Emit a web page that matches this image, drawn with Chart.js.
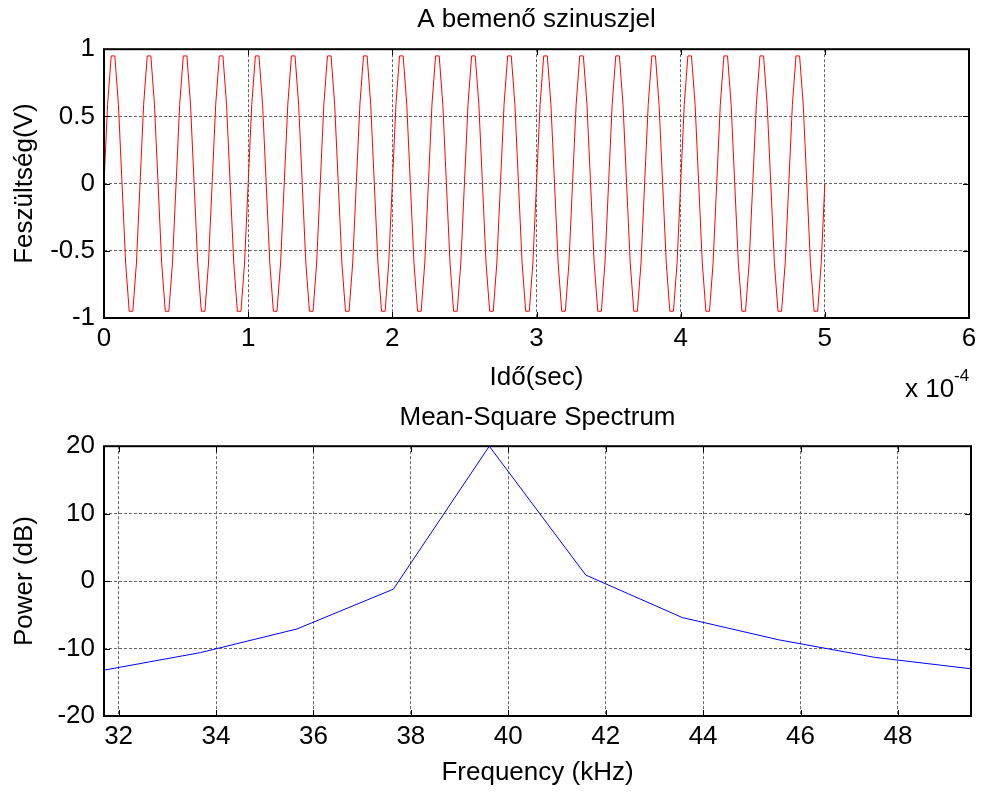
<!DOCTYPE html>
<html lang="hu">
<head>
<meta charset="utf-8">
<title>A bemenő szinuszjel</title>
<script src="https://cdn.jsdelivr.net/npm/chart.js@4.4.1/dist/chart.umd.min.js"></script>
<style>
    body { margin: 0; background: #fff; }
    #grafico1 { position: absolute; left: 0; top: 0; }
    #grafico2 { position: absolute; left: 0; top: 400px; }
</style>
</head>
<body>
<canvas id="grafico1" width="982" height="400"></canvas>
<canvas id="grafico2" width="982" height="392"></canvas>
<script>
// idő (x 10^-4 sec)
const tempo = [
    0, 0.025, 0.05, 0.075, 0.1, 0.125, 0.15, 0.175, 0.2, 0.225,
    0.25, 0.275, 0.3, 0.325, 0.35, 0.375, 0.4, 0.425, 0.45, 0.475,
    0.5, 0.525, 0.55, 0.575, 0.6, 0.625, 0.65, 0.675, 0.7, 0.725,
    0.75, 0.775, 0.8, 0.825, 0.85, 0.875, 0.9, 0.925, 0.95, 0.975,
    1, 1.025, 1.05, 1.075, 1.1, 1.125, 1.15, 1.175, 1.2, 1.225,
    1.25, 1.275, 1.3, 1.325, 1.35, 1.375, 1.4, 1.425, 1.45, 1.475,
    1.5, 1.525, 1.55, 1.575, 1.6, 1.625, 1.65, 1.675, 1.7, 1.725,
    1.75, 1.775, 1.8, 1.825, 1.85, 1.875, 1.9, 1.925, 1.95, 1.975,
    2, 2.025, 2.05, 2.075, 2.1, 2.125, 2.15, 2.175, 2.2, 2.225,
    2.25, 2.275, 2.3, 2.325, 2.35, 2.375, 2.4, 2.425, 2.45, 2.475,
    2.5, 2.525, 2.55, 2.575, 2.6, 2.625, 2.65, 2.675, 2.7, 2.725,
    2.75, 2.775, 2.8, 2.825, 2.85, 2.875, 2.9, 2.925, 2.95, 2.975,
    3, 3.025, 3.05, 3.075, 3.1, 3.125, 3.15, 3.175, 3.2, 3.225,
    3.25, 3.275, 3.3, 3.325, 3.35, 3.375, 3.4, 3.425, 3.45, 3.475,
    3.5, 3.525, 3.55, 3.575, 3.6, 3.625, 3.65, 3.675, 3.7, 3.725,
    3.75, 3.775, 3.8, 3.825, 3.85, 3.875, 3.9, 3.925, 3.95, 3.975,
    4, 4.025, 4.05, 4.075, 4.1, 4.125, 4.15, 4.175, 4.2, 4.225,
    4.25, 4.275, 4.3, 4.325, 4.35, 4.375, 4.4, 4.425, 4.45, 4.475,
    4.5, 4.525, 4.55, 4.575, 4.6, 4.625, 4.65, 4.675, 4.7, 4.725,
    4.75, 4.775, 4.8, 4.825, 4.85, 4.875, 4.9, 4.925, 4.95, 4.975,
    5
];

// feszültség (V)
const tensao = [
    0, 0.59, 0.95, 0.95, 0.59, 0, -0.59, -0.95, -0.95, -0.59,
    0, 0.59, 0.95, 0.95, 0.59, 0, -0.59, -0.95, -0.95, -0.59,
    0, 0.59, 0.95, 0.95, 0.59, 0, -0.59, -0.95, -0.95, -0.59,
    0, 0.59, 0.95, 0.95, 0.59, 0, -0.59, -0.95, -0.95, -0.59,
    0, 0.59, 0.95, 0.95, 0.59, 0, -0.59, -0.95, -0.95, -0.59,
    0, 0.59, 0.95, 0.95, 0.59, 0, -0.59, -0.95, -0.95, -0.59,
    0, 0.59, 0.95, 0.95, 0.59, 0, -0.59, -0.95, -0.95, -0.59,
    0, 0.59, 0.95, 0.95, 0.59, 0, -0.59, -0.95, -0.95, -0.59,
    0, 0.59, 0.95, 0.95, 0.59, 0, -0.59, -0.95, -0.95, -0.59,
    0, 0.59, 0.95, 0.95, 0.59, 0, -0.59, -0.95, -0.95, -0.59,
    0, 0.59, 0.95, 0.95, 0.59, 0, -0.59, -0.95, -0.95, -0.59,
    0, 0.59, 0.95, 0.95, 0.59, 0, -0.59, -0.95, -0.95, -0.59,
    0, 0.59, 0.95, 0.95, 0.59, 0, -0.59, -0.95, -0.95, -0.59,
    0, 0.59, 0.95, 0.95, 0.59, 0, -0.59, -0.95, -0.95, -0.59,
    0, 0.59, 0.95, 0.95, 0.59, 0, -0.59, -0.95, -0.95, -0.59,
    0, 0.59, 0.95, 0.95, 0.59, 0, -0.59, -0.95, -0.95, -0.59,
    0, 0.59, 0.95, 0.95, 0.59, 0, -0.59, -0.95, -0.95, -0.59,
    0, 0.59, 0.95, 0.95, 0.59, 0, -0.59, -0.95, -0.95, -0.59,
    0, 0.59, 0.95, 0.95, 0.59, 0, -0.59, -0.95, -0.95, -0.59,
    0, 0.59, 0.95, 0.95, 0.59, 0, -0.59, -0.95, -0.95, -0.59,
    0
];

// spektrum
const frequencia = [31.70, 33.68, 35.66, 37.64, 39.61, 41.59, 43.57, 45.55, 47.52, 49.50];
const potencia = [-13.2, -10.6, -7.1, -1.2, 20.0, 0.9, -5.4, -8.7, -11.3, -13.0];

const ticksFrequencia = [32, 34, 36, 38, 40, 42, 44, 46, 48];

const fonte = "'Liberation Sans', Arial, sans-serif";
const tamanho = 26;

// caixa preta com os tracinhos para dentro (estilo matlab)
const moldura = {
    id: 'moldura',
    afterDatasetsDraw(chart) {
        const { ctx, chartArea: a, scales } = chart;
        const t = 6;
        ctx.save();
        ctx.strokeStyle = '#000';
        ctx.lineWidth = 1;
        ctx.beginPath();
        scales.x.ticks.forEach(tk => {
            const px = Math.round(scales.x.getPixelForValue(tk.value)) + 0.5;
            ctx.moveTo(px, a.bottom); ctx.lineTo(px, a.bottom - t);
            ctx.moveTo(px, a.top); ctx.lineTo(px, a.top + t);
        });
        scales.y.ticks.forEach(tk => {
            const py = Math.round(scales.y.getPixelForValue(tk.value)) + 0.5;
            ctx.moveTo(a.left, py); ctx.lineTo(a.left + t, py);
            ctx.moveTo(a.right, py); ctx.lineTo(a.right - t, py);
        });
        ctx.stroke();
        ctx.lineWidth = 2;
        ctx.strokeRect(a.left, a.top, a.right - a.left, a.bottom - a.top);
        ctx.restore();
    }
};

const expoente = {
    id: 'expoente',
    afterDraw(chart) {
        const ctx = chart.ctx;
        ctx.save();
        ctx.fillStyle = '#000';
        ctx.textAlign = 'left';
        ctx.textBaseline = 'alphabetic';
        ctx.font = tamanho + 'px ' + fonte;
        ctx.fillText('x 10', 905, 397);
        ctx.font = '17px ' + fonte;
        ctx.fillText('-4', 954, 381);
        ctx.restore();
    }
};

function eixoX(min, max, altura, titulo, paddingTitulo) {
    return {
        type: 'linear',
        min: min,
        max: max,
        afterFit: (s) => { s.height = altura; },
        grid: { color: '#666', lineWidth: 1, drawTicks: false },
        border: { display: false, dash: [3, 2] },
        ticks: { color: '#000', font: { family: fonte, size: tamanho }, padding: 5, maxRotation: 0, autoSkip: false },
        title: { display: true, text: titulo, color: '#000', font: { family: fonte, size: tamanho }, padding: { top: 0, bottom: paddingTitulo } }
    };
}

function eixoY(min, max, passo, titulo) {
    return {
        min: min,
        max: max,
        afterFit: (s) => { s.width = 104; },
        grid: { color: '#666', lineWidth: 1, drawTicks: false },
        border: { display: false, dash: [3, 2] },
        ticks: {
            stepSize: passo,
            color: '#000',
            font: { family: fonte, size: tamanho },
            padding: 9,
            callback: (v) => String(v)
        },
        title: { display: true, text: titulo, color: '#000', font: { family: fonte, size: tamanho }, padding: { top: 9, bottom: 0 } }
    };
}

const grafico1 = document.getElementById('grafico1');
const grafico2 = document.getElementById('grafico2');

const eixoTempo = eixoX(0, 6, 82, 'Idő(sec)', 7);
eixoTempo.ticks.stepSize = 1;

new Chart(grafico1, {
    type: 'line',
    data: {
        datasets: [{
            data: tempo.map((t, i) => ({ x: t, y: tensao[i] })),
            borderColor: '#ff0000',
            borderWidth: 1,
            pointRadius: 0,
            tension: 0
        }]
    },
    options: {
        responsive: false,
        animation: false,
        events: [],
        layout: { padding: { left: 0, right: 13, top: 0, bottom: 0 } },
        plugins: {
            legend: { display: false },
            tooltip: { enabled: false },
            title: {
                display: true,
                text: 'A bemenő szinuszjel',
                color: '#000',
                fullSize: false,
                font: { family: fonte, size: tamanho, weight: 'normal' },
                padding: { top: 4, bottom: 14 }
            }
        },
        scales: {
            x: eixoTempo,
            y: eixoY(-1, 1, 0.5, 'Feszültség(V)')
        }
    },
    plugins: [moldura, expoente]
});

const eixoFreq = eixoX(31.70, 49.50, 76, 'Frequency (kHz)', 4);
eixoFreq.afterBuildTicks = (s) => { s.ticks = ticksFrequencia.map(v => ({ value: v })); };

new Chart(grafico2, {
    type: 'line',
    data: {
        datasets: [{
            data: frequencia.map((f, i) => ({ x: f, y: potencia[i] })),
            borderColor: '#0000ff',
            borderWidth: 1,
            pointRadius: 0,
            tension: 0
        }]
    },
    options: {
        responsive: false,
        animation: false,
        events: [],
        layout: { padding: { left: 0, right: 11, top: 0, bottom: 0 } },
        plugins: {
            legend: { display: false },
            tooltip: { enabled: false },
            title: {
                display: true,
                text: 'Mean-Square Spectrum',
                color: '#000',
                fullSize: false,
                font: { family: fonte, size: tamanho, weight: 'normal' },
                padding: { top: 2, bottom: 13 }
            }
        },
        scales: {
            x: eixoFreq,
            y: eixoY(-20, 20, 10, 'Power (dB)')
        }
    },
    plugins: [moldura]
});
</script>
</body>
</html>
